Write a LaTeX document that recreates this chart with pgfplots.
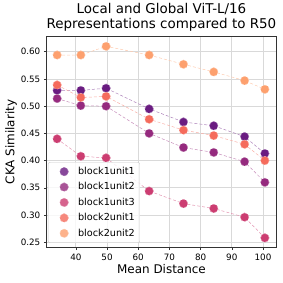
\documentclass[border=0pt]{standalone}
\usepackage{pgfplots}
\pgfplotsset{compat=1.18}
\usetikzlibrary{calc}
\usepackage{fontspec}
\setmainfont{DejaVu Sans}
\definecolor{cA}{HTML}{6A1C81}
\definecolor{cB}{HTML}{952A7E}
\definecolor{cC}{HTML}{CC3D71}
\definecolor{cD}{HTML}{F56B5C}
\definecolor{cE}{HTML}{FDA06E}
\definecolor{gridc}{HTML}{D9D9D9}
\begin{document}
\begin{tikzpicture}
\begin{axis}[
  name=ax,
  scale only axis,
  width=230pt, height=211pt,
  xmin=30.7, xmax=104.2, ymin=0.241, ymax=0.6275,
  xtick={40,50,60,70,80,90,100},
  ytick={0.25,0.30,0.35,0.40,0.45,0.50,0.55,0.60},
  yticklabel style={/pgf/number format/fixed,/pgf/number format/fixed zerofill,/pgf/number format/precision=2},
  /pgf/number format/assume math mode=true,
  tick label style={font=\fontsize{8.8}{10}\selectfont},
  grid=major,
  major grid style={gridc, line width=0.8pt},
  axis line style={black!80, line width=0.8pt},
  tick style={black!80, line width=0.6pt},
  tick align=outside, tick pos=left,
  major tick length=3pt,
  xlabel={Mean Distance}, ylabel={CKA Similarity},
  label style={font=\fontsize{12}{14}\selectfont},
  xlabel style={yshift=3pt},
  ylabel style={yshift=-3pt},
  title={Local and Global ViT-L/16\\Representations compared to R50},
  title style={font=\fontsize{13.5}{15}\selectfont, align=center, yshift=-4pt},
  legend style={at={(0.005,0.02)}, anchor=south west, font=\fontsize{9.7}{11}\selectfont,
    draw=black!22, draw opacity=1, rounded corners=2pt, fill=white, fill opacity=0.8, text opacity=1,
    row sep=2.6pt, inner xsep=3pt, inner ysep=3pt},
  legend cell align=left,
  legend image code/.code={\path[draw=none] (0pt,0pt) -- (25pt,0pt); \path[#1, draw=none] plot coordinates {(13pt,0pt)};},
  every axis plot/.append style={line width=0.5pt, densely dashed, mark=*, mark size=4.3pt,
    mark options={solid, draw=none, fill opacity=1}},
]
\addplot[cA!55, mark options={fill=cA}] coordinates {
(34.0,0.529) (41.6,0.529) (49.7,0.533) (63.5,0.495) (74.5,0.471) (84.2,0.464) (94.1,0.444) (100.6,0.413)};
\addlegendentry{block1unit1}
\addplot[cB!55, mark options={fill=cB}] coordinates {
(34.0,0.514) (41.6,0.501) (49.7,0.500) (63.5,0.450) (74.5,0.424) (84.2,0.415) (94.1,0.398) (100.6,0.360)};
\addlegendentry{block1unit2}
\addplot[cC!55, mark options={fill=cC}] coordinates {
(34.0,0.440) (41.6,0.408) (49.7,0.405) (63.5,0.344) (74.5,0.321) (84.2,0.312) (94.1,0.296) (100.6,0.258)};
\addlegendentry{block1unit3}
\addplot[cD!55, mark options={fill=cD}] coordinates {
(34.0,0.539) (41.6,0.516) (49.7,0.518) (63.5,0.476) (74.5,0.456) (84.2,0.446) (94.1,0.430) (100.6,0.400)};
\addlegendentry{block2unit1}
\addplot[cE!55, mark options={fill=cE}] coordinates {
(34.0,0.594) (41.6,0.594) (49.7,0.610) (63.5,0.594) (74.5,0.577) (84.2,0.563) (94.1,0.547) (100.6,0.531)};
\addlegendentry{block2unit2}
\end{axis}
\path ($(ax.south west)+(-47pt,-36pt)$) rectangle ($(ax.north east)+(6pt,36pt)$);
\end{tikzpicture}
\end{document}
